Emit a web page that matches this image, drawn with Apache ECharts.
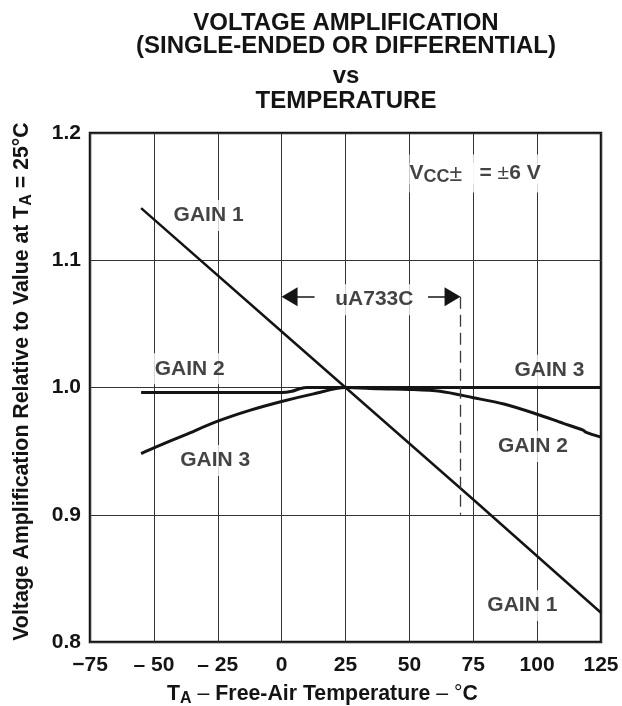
<!DOCTYPE html>
<html>
<head>
<meta charset="utf-8">
<script src="https://cdn.jsdelivr.net/npm/echarts@6/dist/echarts.min.js"></script>
<style>
  html, body { margin: 0; padding: 0; background: #fff; }
  #chart { width: 622px; height: 706px; }
</style>
</head>
<body>
<div id="chart"></div>
<script>
const FONT = '"Liberation Sans", Arial, Helvetica, sans-serif';
const INK = '#141414';

const titleLines = ['VOLTAGE AMPLIFICATION', '(SINGLE-ENDED OR DIFFERENTIAL)', 'vs', 'TEMPERATURE'];
const xTickLabels = ['\u221275', '\u2013 50', '\u2013 25', '0', '25', '50', '75', '100', '125'];
const yTickLabels = ['0.8', '0.9', '1.0', '1.1', '1.2'];

// values (relative gain vs temperature, °C)
const gain1Temp  = [-55, 0, 25, 75, 125];
const gain1Value = [1.141, 1.044, 1.0, 0.912, 0.823];

const gain2Temp  = [-55, 0, 4, 7, 10, 25, 38, 50, 62, 75, 87, 100, 110, 118, 119, 125];
const gain2Value = [0.996, 0.996, 0.997, 0.999, 1.0, 1.0, 0.999, 0.9985, 0.997, 0.992, 0.987, 0.979, 0.972, 0.9665, 0.965, 0.961];

const gain3Temp  = [-55, -50, -37.5, -25, -12.5, 0, 12.5, 25, 125];
const gain3Value = [0.948, 0.9525, 0.963, 0.9735, 0.982, 0.989, 0.995, 1.0, 1.0];

// curve names placed in data units
const labelText  = ['GAIN 1', 'GAIN 2', 'GAIN 3', 'GAIN 3', 'GAIN 2', 'GAIN 1', 'uA733C'];
const labelTemp  = [-28.6, -36, -26, 104.8, 98.4, 94.2, 36.3];
const labelValue = [1.1375, 1.017, 0.945, 1.016, 0.956, 0.831, 1.0714];

// uA733C range marker and supply note
const rangeTemp = [0, 70];
const rangeValue = 1.0714;
const rangeFloor = 0.9;
const vccTemp = 50;
const vccValue = 1.169;

const chart = echarts.init(document.getElementById('chart'));

const pairs = (xs, ys) => xs.map((x, i) => [x, ys[i]]);

const labelData = labelText.map((t, i) => ({ value: [labelTemp[i], labelValue[i]], name: t }));
labelData.push({
  value: [vccTemp, vccValue],
  name: 'vcc',
  label: {
    align: 'left',
    offset: [0, 1],
    formatter: '{v|V}{sub|CC}{subr|\u00b1}{b|   = }{r|\u00b1}{b|6 V}',
    padding: [6, 4, 6, 0]
  }
});

const richBase = { color: INK, fontFamily: FONT, lineHeight: 26, backgroundColor: '#fff' };

const option = {
  animation: false,
  textStyle: { fontFamily: FONT },
  graphic: titleLines.map((t, i) => ({
    type: 'text',
    x: 346,
    y: [23, 46, 76, 101][i],
    style: {
      text: t,
      font: 'bold 24px ' + FONT,
      fill: INK,
      align: 'center',
      verticalAlign: 'middle',
      textAlign: 'center',
      textVerticalAlign: 'middle'
    }
  })),
  grid: {
    left: 90, right: 21, top: 133, bottom: 64,
    outerBoundsMode: 'none', containLabel: false,
    show: true, borderColor: INK, borderWidth: 2.5, backgroundColor: 'transparent'
  },
  xAxis: {
    type: 'value', min: -75, max: 125, interval: 25,
    axisLine: { show: false }, axisTick: { show: false },
    splitLine: { show: true, lineStyle: { color: '#333', width: 1 } },
    axisLabel: {
      margin: 13, fontSize: 21, fontWeight: 'bold', color: INK, fontFamily: FONT,
      formatter: (v, i) => xTickLabels[i]
    },
    name: 'T{sub|A}{r| \u2013 }Free-Air Temperature{r| \u2013 \u00b0}C',
    nameLocation: 'middle', nameGap: 36,
    nameTextStyle: {
      fontSize: 21.3, fontWeight: 'bold', color: INK, fontFamily: FONT, lineHeight: 26,
      padding: [0, 46, 0, 0],
      rich: {
        sub: { fontSize: 16, fontWeight: 'bold', color: INK, fontFamily: FONT, verticalAlign: 'bottom', lineHeight: 26 },
        r: { fontSize: 21.3, fontWeight: 'normal', color: INK, fontFamily: FONT, lineHeight: 26 }
      }
    }
  },
  yAxis: {
    type: 'value', min: 0.8, max: 1.2, interval: 0.1,
    axisLine: { show: false }, axisTick: { show: false },
    splitLine: { show: true, lineStyle: { color: '#333', width: 1 } },
    axisLabel: {
      margin: 9, fontSize: 21, fontWeight: 'bold', color: INK, fontFamily: FONT,
      formatter: (v, i) => yTickLabels[i]
    },
    name: 'Voltage Amplification Relative to Value at T{sub|A} = 25\u00b0C',
    nameLocation: 'middle', nameGap: 55,
    nameTextStyle: {
      fontSize: 21.3, fontWeight: 'bold', color: INK, fontFamily: FONT, lineHeight: 26,
      padding: [0, 0, 0, 12],
      rich: {
        sub: { fontSize: 16, fontWeight: 'bold', color: INK, fontFamily: FONT, verticalAlign: 'bottom', lineHeight: 26 }
      }
    }
  },
  series: [
    {
      name: 'GAIN 1', type: 'line', data: pairs(gain1Temp, gain1Value),
      showSymbol: false, lineStyle: { color: INK, width: 2.5 }, z: 3
    },
    {
      name: 'GAIN 2', type: 'line', data: pairs(gain2Temp, gain2Value), smooth: 0.3,
      showSymbol: false, lineStyle: { color: INK, width: 3 }, z: 3
    },
    {
      name: 'GAIN 3', type: 'line', data: pairs(gain3Temp, gain3Value), smooth: 0.3,
      showSymbol: false, lineStyle: { color: INK, width: 3 }, z: 3
    },
    {
      name: 'range', type: 'line', data: [], z: 3,
      markLine: {
        silent: true, animation: false,
        label: { show: false },
        symbol: ['none', 'none'],
        data: [
          [
            { coord: [12.9, rangeValue], symbol: 'none' },
            { coord: [rangeTemp[0] + 3.1, rangeValue], symbol: 'triangle', symbolSize: [19, 16] }
          ],
          [
            { coord: [57.3, rangeValue], symbol: 'none' },
            { coord: [rangeTemp[1] - 3.1, rangeValue], symbol: 'triangle', symbolSize: [19, 16] }
          ],
          [
            { coord: [rangeTemp[1], rangeValue], symbol: 'none', lineStyle: { type: [12, 6], color: '#3a3a3a', width: 1.3 } },
            { coord: [rangeTemp[1], rangeFloor], symbol: 'none' }
          ]
        ],
        lineStyle: { color: INK, width: 1.5, type: 'solid' },
        itemStyle: { color: INK }
      }
    },
    {
      name: 'labels', type: 'scatter', data: labelData, z: 4,
      symbolSize: 1, itemStyle: { color: 'rgba(0,0,0,0)' }, silent: true,
      label: {
        show: true, position: 'inside', offset: [0, 3],
        formatter: p => p.name,
        fontSize: 21, fontWeight: 'bold', color: INK, fontFamily: FONT,
        backgroundColor: '#fff', padding: [5, 4],
        rich: {
          v: Object.assign({ fontSize: 21, fontWeight: 'bold' }, richBase),
          sub: Object.assign({ fontSize: 18, fontWeight: 'bold', verticalAlign: 'bottom' }, richBase),
          subr: Object.assign({ fontSize: 23, fontWeight: 'normal', verticalAlign: 'bottom' }, richBase),
          b: Object.assign({ fontSize: 21, fontWeight: 'bold' }, richBase),
          r: Object.assign({ fontSize: 21, fontWeight: 'normal' }, richBase)
        }
      }
    }
  ]
};

chart.setOption(option);
</script>
</body>
</html>
